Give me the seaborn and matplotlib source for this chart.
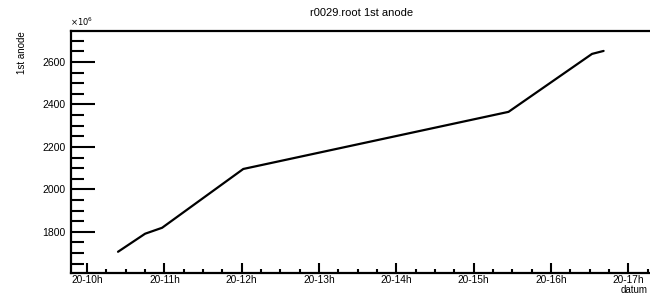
import numpy as np
import pandas as pd
import seaborn as sns
import matplotlib.pyplot as plt
from matplotlib.ticker import MultipleLocator

# readings (hour of day 20, value in units of 1e6)
hours = [10.40, 10.75, 10.97, 12.02, 15.45, 16.53, 16.68]
anode = [1706, 1791, 1819, 2096, 2365, 2638, 2652]
tick_hours = [10, 11, 12, 13, 14, 15, 16, 17]
tick_labels = ["20-10h", "20-11h", "20-12h", "20-13h", "20-14h", "20-15h", "20-16h", "20-17h"]

df = pd.DataFrame({"datum": hours, "anode": anode})

sns.set_style("ticks", {"axes.edgecolor": "black", "xtick.color": "black",
                        "ytick.color": "black", "text.color": "black"})
plt.rcParams['font.family'] = ['Liberation Sans', 'DejaVu Sans']

fig = plt.figure(figsize=(6.5, 2.95), dpi=100)
ax = fig.add_axes([0.109, 0.076, 0.891, 0.819])

sns.lineplot(data=df, x="datum", y="anode", color="black", linewidth=1.6, ax=ax)

ax.set_xlim(9.79, 17.28)
ax.set_ylim(1608, 2746)

ax.set_xticks(tick_hours)
ax.set_xticklabels(tick_labels, fontsize=7.3)
ax.xaxis.set_minor_locator(MultipleLocator(0.25))
ax.set_yticks([1800, 2000, 2200, 2400, 2600])
ax.yaxis.set_minor_locator(MultipleLocator(50))
ax.tick_params(axis="y", labelsize=7.5, pad=4)

ax.tick_params(axis="x", which="major", direction="in", length=7, width=1.5, pad=1.5)
ax.tick_params(axis="x", which="minor", direction="in", length=3, width=1.5)
ax.tick_params(axis="y", which="major", direction="in", length=17, width=1.5)
ax.tick_params(axis="y", which="minor", direction="in", length=9, width=1.5)

for s in ["left", "bottom", "top"]:
    ax.spines[s].set_linewidth(1.6)
ax.spines["right"].set_visible(False)

ax.set_xlabel("")
ax.set_ylabel("")
fig.text(0.034, 0.895, "1st anode", rotation=90, ha="center", va="top", fontsize=7)
fig.text(0.997, 0.017, "datum", ha="right", va="center", fontsize=7)
fig.text(0.108, 0.905, r"$\times10^{6}$", ha="left", va="bottom", fontsize=6)
fig.text(0.556, 0.955, "r0029.root 1st anode", ha="center", va="center", fontsize=8)

fig.savefig("out.png", dpi=100)
